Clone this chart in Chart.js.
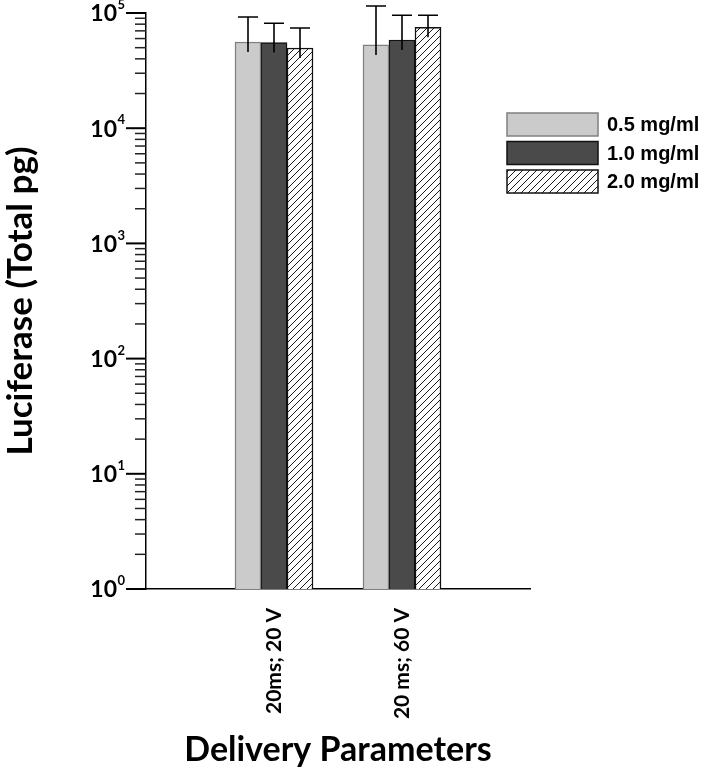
<!DOCTYPE html>
<html lang="en">
<head>
<meta charset="UTF-8">
<title>Luciferase by delivery parameters</title>
<script src="https://cdn.jsdelivr.net/npm/chart.js@4.4.1/dist/chart.umd.min.js"></script>
<style>
  html, body { margin: 0; padding: 0; background: #fff; }
  canvas { display: block; }
</style>
</head>
<body>
<canvas id="lucChart" width="710" height="771"></canvas>
<script>
// categories and values (log scale)
var categories = ['20ms; 20 V', '20 ms; 60 V'];
var seriesNames = ['0.5 mg/ml', '1.0 mg/ml', '2.0 mg/ml'];
var dose05 = [56000, 52800];
var dose10 = [55500, 58300];
var dose20 = [49700, 75100];
// top of the error bars
var err05 = [92300, 115000];
var err10 = [81400, 95500];
var err20 = [74100, 95600];
// y axis decades: 10^0 .. 10^5
var decades = [0, 1, 2, 3, 4, 5];

var yTickValues = [];
decades.forEach(function (d, i) {
    var base = Math.pow(10, d);
    if (i === decades.length - 1) { yTickValues.push(base); return; }
    for (var m = 1; m <= 9; m++) yTickValues.push(m * base);
});

// empty slots at both ends so the groups sit at 1/3 and 2/3 of the axis
function pad(arr) { return [null].concat(arr, [null]); }
var labels = [''].concat(categories, ['']);

function makeHatch() {
    var c = document.createElement('canvas');
    c.width = 7; c.height = 7;
    var g = c.getContext('2d');
    g.fillStyle = '#fff';
    g.fillRect(0, 0, 7, 7);
    g.strokeStyle = '#000';
    g.lineWidth = 0.9;
    g.beginPath();
    g.moveTo(-1, 8); g.lineTo(8, -1);
    g.moveTo(-4.5, 4.5); g.lineTo(4.5, -4.5);
    g.moveTo(2.5, 11.5); g.lineTo(11.5, 2.5);
    g.stroke();
    return g.createPattern(c, 'repeat');
}

var ctx = document.getElementById('lucChart').getContext('2d');
var hatch = makeHatch();

var errTops = [pad(err05), pad(err10), pad(err20)];

var errorBars = {
    id: 'errorBars',
    afterDatasetsDraw: function (chart) {
        var c = chart.ctx;
        var y = chart.scales.y;
        c.save();
        c.strokeStyle = '#000';
        c.lineWidth = 1.6;
        chart.data.datasets.forEach(function (ds, i) {
            chart.getDatasetMeta(i).data.forEach(function (bar, j) {
                var top = errTops[i][j];
                if (top == null) return;
                var yt = y.getPixelForValue(top);
                c.beginPath();
                c.moveTo(bar.x, bar.y + 10);
                c.lineTo(bar.x, yt);
                c.moveTo(bar.x - 10, yt);
                c.lineTo(bar.x + 10, yt);
                c.stroke();
            });
        });
        c.restore();
    }
};

var logAxis = {
    id: 'logAxis',
    afterDraw: function (chart) {
        var c = chart.ctx;
        var y = chart.scales.y;
        var x0 = chart.chartArea.left;
        c.save();
        y.ticks.forEach(function (t) {
            var py = y.getPixelForValue(t.value);
            var exp = Math.log10(t.value);
            var major = Math.abs(exp - Math.round(exp)) < 1e-9;
            c.beginPath();
            c.strokeStyle = major ? '#000' : '#222';
            c.lineWidth = major ? 2 : 1.5;
            c.moveTo(major ? x0 - 20 : x0 - 11, py);
            c.lineTo(x0, py);
            c.stroke();
            if (major) {
                c.fillStyle = '#000';
                c.textBaseline = 'middle';
                c.textAlign = 'right';
                c.font = 'bold 23px Lato';
                c.fillText('10', x0 - 29, py + 1);
                c.textAlign = 'left';
                c.font = 'bold 13px Lato';
                c.fillText(String(Math.round(exp)), x0 - 28.5, py - 8);
            }
        });
        c.restore();
    }
};

var sideLegend = {
    id: 'sideLegend',
    afterDraw: function (chart) {
        var c = chart.ctx;
        c.save();
        chart.data.datasets.forEach(function (ds, i) {
            var top = 113 + i * 28.5;
            c.fillStyle = ds.backgroundColor;
            c.fillRect(507, top, 91, 23);
            c.strokeStyle = ds.borderColor;
            c.lineWidth = 1.5;
            c.strokeRect(507, top, 91, 23);
            c.fillStyle = '#000';
            c.font = 'bold 20px "Liberation Sans"';
            c.textAlign = 'left';
            c.textBaseline = 'middle';
            c.fillText(ds.label, 607, top + 12.5);
        });
        c.restore();
    }
};

var lucChart = new Chart(ctx, {
    type: 'bar',
    data: {
        labels: labels,
        datasets: [
            { label: seriesNames[0], data: pad(dose05), backgroundColor: '#cbcbcb', borderColor: '#808080', borderWidth: 1.5 },
            { label: seriesNames[1], data: pad(dose10), backgroundColor: '#4a4a4a', borderColor: '#111', borderWidth: 1.5 },
            { label: seriesNames[2], data: pad(dose20), backgroundColor: hatch, borderColor: '#111', borderWidth: 1.5 }
        ]
    },
    options: {
        responsive: false,
        animation: false,
        barThickness: 26,
        layout: { padding: { top: 13, right: 180, bottom: 0, left: 0 } },
        plugins: {
            legend: { display: false },
            tooltip: { enabled: false }
        },
        scales: {
            x: {
                type: 'category',
                offset: false,
                grid: { display: false, drawTicks: false },
                border: { color: '#000', width: 1.5 },
                ticks: {
                    autoSkip: false,
                    minRotation: 90,
                    maxRotation: 90,
                    padding: 19,
                    color: '#000',
                    font: { family: 'Lato', size: 21, weight: 'bold' }
                },
                title: {
                    display: true,
                    text: 'Delivery Parameters',
                    color: '#000',
                    font: { family: 'Lato', size: 34, weight: 'bold' },
                    padding: { top: 0, bottom: 1 }
                },
                afterFit: function (s) { s.height = 182; }
            },
            y: {
                type: 'logarithmic',
                min: 1,
                max: 100000,
                afterBuildTicks: function (s) {
                    s.ticks = yTickValues.map(function (v) { return { value: v }; });
                },
                grid: { display: false },
                border: { color: '#000', width: 1.5 },
                ticks: { display: false },
                title: {
                    display: true,
                    text: 'Luciferase (Total pg)',
                    color: '#000',
                    font: { family: 'Lato', size: 35, weight: 'bold' },
                    padding: { top: 0, bottom: 0 }
                },
                afterFit: function (s) { s.width = 146; }
            }
        }
    },
    plugins: [errorBars, logAxis, sideLegend]
});
</script>
</body>
</html>
